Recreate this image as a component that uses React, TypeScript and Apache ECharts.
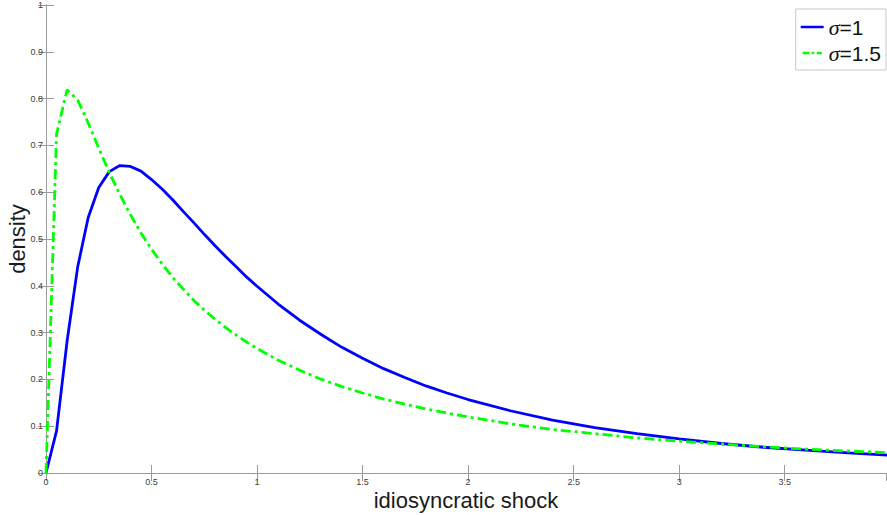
import React, { useEffect, useRef } from "react";
import * as echarts from "echarts";

const shock = [
  0, 0.05, 0.1, 0.15, 0.2, 0.25, 0.3, 0.35, 0.4, 0.45, 0.5, 0.55, 0.6, 0.65, 0.7, 0.75, 0.8, 0.85, 0.9, 0.95, 1.0,
  1.1, 1.2, 1.3, 1.4, 1.5, 1.6, 1.7, 1.8, 1.9, 2.0,
  2.2, 2.4, 2.6, 2.8, 3.0, 3.2, 3.4, 3.6, 3.8, 4.0,
];
const densitySigma1 = [
  0, 0.090, 0.282, 0.440, 0.546, 0.610, 0.644, 0.657, 0.655, 0.645, 0.627, 0.607, 0.584, 0.559, 0.535, 0.510, 0.486, 0.463, 0.441, 0.419, 0.399,
  0.361, 0.327, 0.297, 0.269, 0.245, 0.223, 0.204, 0.186, 0.171, 0.157,
  0.133, 0.113, 0.097, 0.084, 0.073, 0.063, 0.055, 0.049, 0.043, 0.038,
];
const densitySigma15 = [
  0, 0.724, 0.819, 0.797, 0.748, 0.694, 0.642, 0.595, 0.552, 0.513, 0.478, 0.447, 0.418, 0.393, 0.369, 0.348, 0.329, 0.311, 0.295, 0.280, 0.266,
  0.241, 0.220, 0.201, 0.185, 0.171, 0.158, 0.147, 0.137, 0.128, 0.120,
  0.105, 0.093, 0.084, 0.075, 0.068, 0.062, 0.056, 0.051, 0.047, 0.043,
];
const seriesNames = ["σ=1", "σ=1.5"];
const xMax = 3.98;

const axisGray = "#9a9a9a";
const labelGray = "#404040";

export default function App() {
  const ref = useRef<HTMLDivElement>(null);
  useEffect(() => {
    if (!ref.current) return;
    const chart = echarts.init(ref.current, null, { renderer: "svg" });
    const commonX = {
      type: "value" as const,
      min: 0,
      max: xMax,
      interval: 0.5,
      splitLine: { show: false },
      axisLine: { show: true, lineStyle: { color: axisGray, width: 1 } },
      axisTick: { show: true, inside: true, length: 8, lineStyle: { color: axisGray } },
    };
    const commonY = {
      type: "value" as const,
      min: 0,
      max: 1,
      interval: 0.1,
      splitLine: { show: false },
      axisLine: { show: true, lineStyle: { color: axisGray, width: 1 } },
      axisTick: { show: true, inside: true, length: 8, lineStyle: { color: axisGray } },
    };
    chart.setOption({
      animation: false,
      backgroundColor: "#ffffff",
      grid: { left: 46, right: 1, top: 5, bottom: 42, containLabel: false, outerBoundsMode: "none" },
      legend: {
        orient: "vertical",
        right: 1,
        top: 9,
        padding: [6, 5, 5, 5],
        itemGap: 2,
        itemWidth: 23,
        itemHeight: 2.5,
        backgroundColor: "#ffffff",
        borderColor: "#c8c8c8",
        borderWidth: 1,
        data: [
          { name: seriesNames[0], icon: "rect" },
          { name: seriesNames[1], icon: "path://M0,0h8v3h-8zM11,0h3v3h-3zM17,0h6v3h-6z" },
        ],
        formatter: (name: string) => `{s|σ}{t|${name.slice(1)}}`,
        textStyle: {
          lineHeight: 24,
          rich: {
            s: { fontFamily: "Liberation Serif", fontStyle: "italic", fontSize: 22, color: "#111", lineHeight: 24 },
            t: { fontFamily: "Liberation Sans", fontSize: 21, color: "#111", lineHeight: 24 },
          },
        },
      },
      xAxis: [
        {
          ...commonX,
          position: "bottom",
          name: "idiosyncratic shock",
          nameLocation: "middle",
          nameGap: 16,
          nameMoveOverlap: false,
          nameTextStyle: { fontFamily: "Liberation Sans", fontSize: 22, color: "#1a1a1a" },
          axisLabel: {
            show: true,
            margin: 4,
            fontSize: 9,
            fontFamily: "Liberation Sans",
            color: labelGray,
            showMaxLabel: false,
            formatter: (v: number) => (Math.abs(v * 2 - Math.round(v * 2)) < 1e-6 ? String(Math.round(v * 100) / 100) : ""),
          },
        },
        { ...commonX, position: "top", axisLabel: { show: false } },
      ],
      yAxis: [
        {
          ...commonY,
          position: "left",
          name: "density",
          nameLocation: "middle",
          nameGap: 18,
          nameRotate: 90,
          nameMoveOverlap: false,
          nameTextStyle: { fontFamily: "Liberation Sans", fontSize: 22, color: "#1a1a1a" },
          axisLabel: {
            show: true,
            margin: 3,
            fontSize: 9,
            fontFamily: "Liberation Sans",
            color: labelGray,
            formatter: (v: number) => String(Math.round(v * 10) / 10),
          },
        },
        { ...commonY, position: "right", axisLabel: { show: false } },
      ],
      series: [
        {
          name: seriesNames[0],
          type: "line",
          xAxisIndex: 0,
          yAxisIndex: 0,
          data: shock.map((x, i) => [x, densitySigma1[i]]),
          showSymbol: false,
          symbol: "none",
          clip: true,
          lineStyle: { color: "#0000ff", width: 2.8 },
          itemStyle: { color: "#0000ff" },
          z: 2,
        },
        {
          name: seriesNames[1],
          type: "line",
          xAxisIndex: 0,
          yAxisIndex: 0,
          data: shock.map((x, i) => [x, densitySigma15[i]]),
          showSymbol: false,
          symbol: "none",
          clip: true,
          lineStyle: { color: "#00ff00", width: 2.8, type: [10, 4, 3, 4] },
          itemStyle: { color: "#00ff00" },
          z: 3,
        },
      ],
    });
    return () => chart.dispose();
  }, []);
  return (
    <div
      ref={ref}
      style={{ position: "absolute", left: 0, top: 0, width: 887, height: 515, background: "#fff" }}
    />
  );
}
